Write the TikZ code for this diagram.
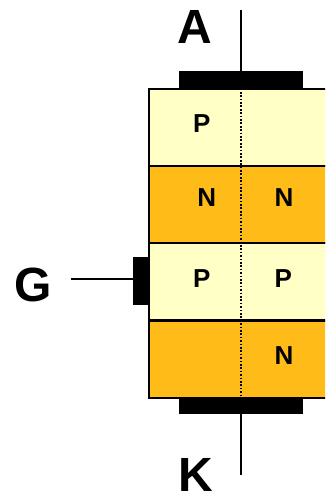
\documentclass[tikz,border=0pt]{standalone}
\usepackage{fontspec}
\setmainfont{Liberation Sans}
\definecolor{pale}{HTML}{FFFFC6}
\definecolor{amber}{HTML}{FFBC18}
\tikzset{
  x=1pt,y=-1pt,
  layerp/.style={draw=black,line width=2pt,fill=pale,rectangle,anchor=north west,minimum width=200pt,minimum height=77pt,inner sep=0pt,outer sep=0pt},
  layern/.style={layerp,fill=amber},
  contact/.style={fill=black,rectangle,inner sep=0pt,outer sep=0pt},
  wire/.style={draw=black,line width=1.3pt},
  dots/.style={draw=black,line width=1.6pt,dash pattern=on 1.7pt off 1.7pt},
  big/.style={font=\fontsize{48}{48}\selectfont\bfseries,inner sep=0pt,anchor=base},
  doping/.style={font=\fontsize{26}{26}\selectfont\bfseries,inner sep=0pt,anchor=base},
}
\begin{document}
\begin{tikzpicture}
\useasboundingbox (0,0) rectangle (325,494);
\clip (0,0) rectangle (325,494);
\node[layerp] (l1) at (149,89) {};
\node[layern] (l2) at (149,166) {};
\node[layerp] (l3) at (149,243) {};
\node[layern] (l4) at (149,320.5) {};
\node[contact,minimum width=124.5pt,minimum height=17pt] (anode) at (240.8,80) {};
\node[contact,minimum width=124.5pt,minimum height=17pt] (cathode) at (240.8,405) {};
\node[contact,minimum width=17pt,minimum height=48pt] (gate) at (141,281) {};
\coordinate (aend) at (241,10);
\coordinate (kend) at (241,475);
\coordinate (gend) at (71,279);
\draw[wire] (aend) -- (aend |- anode.north);
\draw[wire] (kend) -- (kend |- cathode.south);
\draw[wire] (gend) -- (gend -| gate.west);
\draw[dots] (aend |- anode.south) -- (kend |- cathode.north);
\node[big] (ta) at (194.5,44) {A};
\node[big] (tg) at (33,301) {G};
\node[big] (tk) at (196,491.5) {K};
\node[doping] (p1) at (201.7,132.7) {P};
\node[doping] (n1) at (206.7,206.7) {N};
\node[doping] (n2) at (284,206.7) {N};
\node[doping] (p2) at (201.7,287) {P};
\node[doping] (p3) at (283.3,287) {P};
\node[doping] (n3) at (284,364) {N};
\end{tikzpicture}
\end{document}
